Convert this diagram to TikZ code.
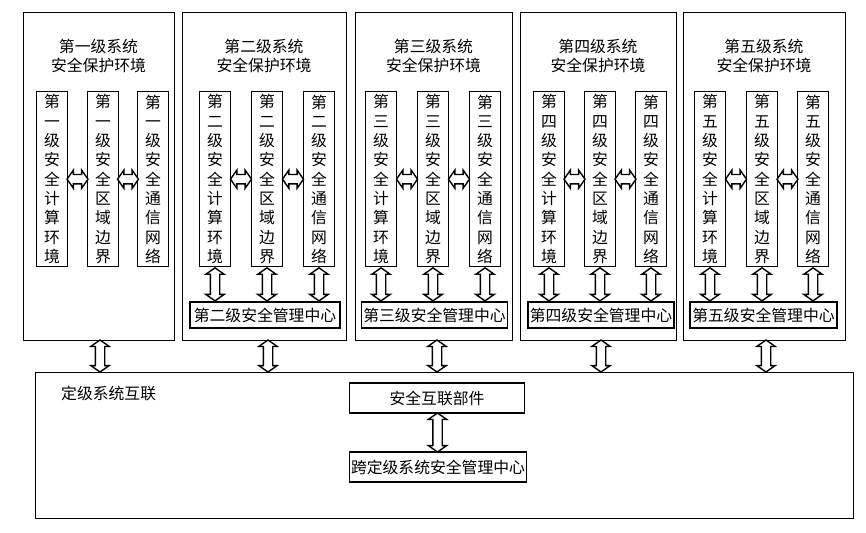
\documentclass[tikz,border=0pt]{standalone}
\usepackage{fontspec}
\newfontfamily\cjk{Noto Sans CJK SC}
\usetikzlibrary{shapes.arrows,calc}
\tikzset{
  outer/.style={draw, thick, anchor=north west, inner sep=0pt},
  col/.style={draw, thick, minimum width=0.62cm, minimum height=3.5cm, text width=1em, align=center, inner sep=1pt, anchor=north},
  mgmt/.style={draw, thick, minimum height=0.52cm, inner sep=1pt},
  darr/.style={double arrow, draw, thick, fill=white, double arrow head extend=0.09cm, double arrow tip angle=110, inner xsep=0pt, inner ysep=0.08cm},
}
\begin{document}
\begin{tikzpicture}[x=0.02cm, y=-0.02cm, font=\cjk\small]
\useasboundingbox (0,0) rectangle (866,532);
% five system environments
\foreach \i/\lv/\xl/\w/\ca/\cb/\cc in {1/一/23/151/52/103/153, 2/二/182/164/215/267/319, 3/三/355/157/381/433/485, 4/四/520/156/549/600/651, 5/五/683/162/710/762/813}{
  \node[outer, minimum width=\w*0.02cm, minimum height=328*0.02cm] (sys\i) at (\xl,12) {};
  \node[align=center] (title\i) at (\xl+\w/2,56) {第\lv 级系统\\安全保护环境};
  \node[col] (ce\i) at (\ca,91) {第\\\lv\\级\\安\\全\\计\\算\\环\\境};
  \node[col] (be\i) at (\cb,91) {第\\\lv\\级\\安\\全\\区\\域\\边\\界};
  \node[col] (cn\i) at (\cc,91) {第\\\lv\\级\\安\\全\\通\\信\\网\\络};
  \node[darr, minimum height=0.42cm] (h1\i) at ($(ce\i.east)!0.5!(be\i.west)$) {};
  \node[darr, minimum height=0.42cm] (h2\i) at ($(be\i.east)!0.5!(cn\i.west)$) {};
}
% management centres
\foreach \i/\lv/\xa/\xb in {2/二/190/340, 3/三/362/507, 4/四/530/672, 5/五/690/837}{
  \node[mgmt, minimum width=(\xb-\xa)*0.02cm] (mc\i) at ({(\xa+\xb)/2},315) {第\lv 级安全管理中心};
  \foreach \c in {ce,be,cn}
    \node[darr, rotate=90, minimum height=0.66cm] at ($(\c\i.south)!0.5!(\c\i.south|-mc\i.north)$) {};
}
% interconnection
\node[outer, minimum width=818*0.02cm, minimum height=146*0.02cm] (net) at (35,372) {};
\node[anchor=west] (netlabel) at (55,393) {定级系统互联};
\node[mgmt, minimum width=3.5cm, minimum height=0.6cm] (part) at (437,398) {安全互联部件};
\node[mgmt, minimum width=3.54cm, minimum height=0.6cm] (xmc) at (438,467) {跨定级系统安全管理中心};
\node[darr, rotate=90, minimum height=0.78cm] at ($(part.south)!0.5!(xmc.north)$) {};
\foreach \i/\x in {1/100, 2/268, 3/437, 4/601, 5/766}
  \node[darr, rotate=90, minimum height=0.64cm] at (\x,356) {};
\end{tikzpicture}
\end{document}
